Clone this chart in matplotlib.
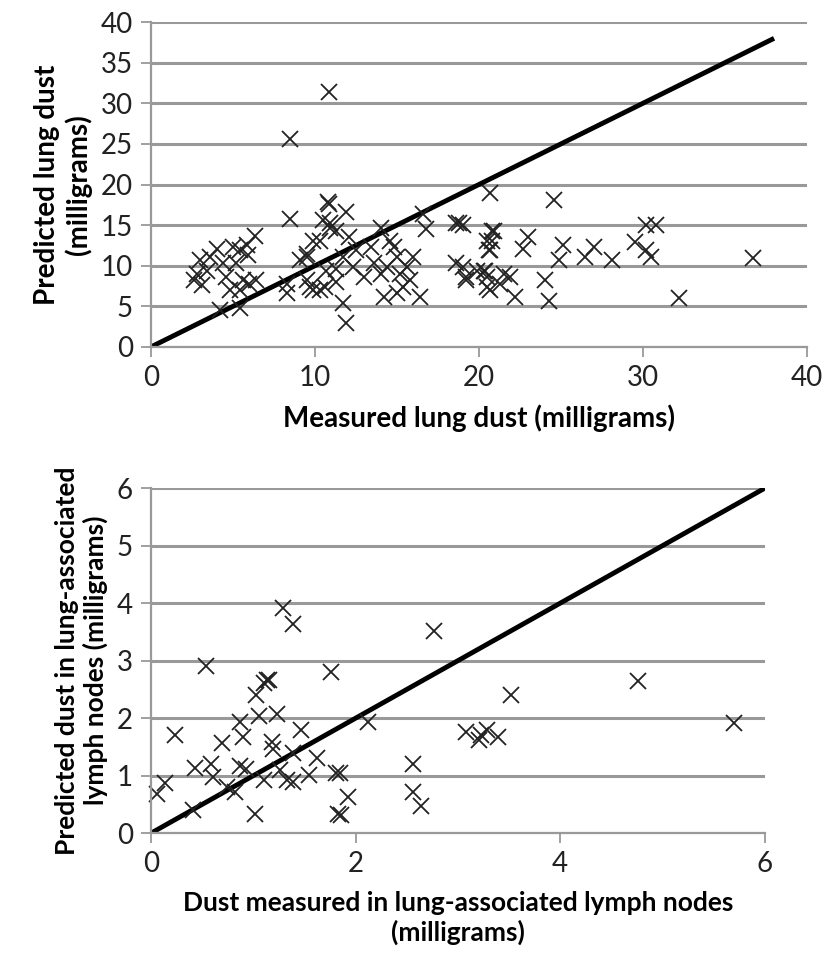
"""Predicted vs measured dust: lung (top) and lung-associated lymph nodes (bottom)."""
import matplotlib
matplotlib.use('Agg')
import matplotlib.pyplot as plt

# lung dust, milligrams
lung_measured = [
    10.85, 8.48, 20.7, 10.85, 8.48, 10.8, 10.5, 10.9,
    6.34, 5.83, 5.4, 4.0, 3.6, 3.0, 2.8, 2.6, 3.1, 4.4, 4.6, 5.2, 5.6, 6.0,
    4.8, 5.4, 4.2, 5.4, 5.0, 5.9, 3.4, 6.4,
    8.3, 8.3, 9.1, 9.5, 9.7, 10.3, 9.9, 10.7, 11.3, 11.9,
    11.9, 10.9, 11.3, 10.3, 9.5, 12.1, 11.7, 12.5, 12.3, 11.3, 9.5, 9.9, 10.6,
    11.7, 13.4, 14.0, 13.0, 13.6, 14.0, 14.2, 14.6, 14.8, 15.0, 14.4, 15.2,
    15.6, 16.0, 15.4, 15.0, 15.8, 16.4, 16.6, 16.8,
    18.6, 19.0, 18.6, 19.0, 19.2, 19.9, 20.5, 20.7, 20.4, 20.5, 20.9,
    24.6, 18.8, 20.8, 20.8, 20.6, 23.0, 22.7, 25.1, 24.9, 27.0, 26.5, 28.1,
    29.5, 30.2, 30.5, 30.2, 30.8, 36.7, 32.2, 24.3, 24.0, 22.2, 21.5, 21.3,
    20.5, 20.3, 20.7, 19.2, 21.9,
]
lung_predicted = [
    31.4, 25.6, 19.0, 17.6, 15.8, 17.8, 15.6, 14.7,
    13.7, 12.5, 11.9, 12.1, 11.1, 10.7, 9.0, 8.2, 7.6, 10.3, 8.6, 10.3, 8.2, 7.8,
    7.0, 7.0, 4.5, 4.8, 12.3, 11.3, 9.4, 8.2,
    7.8, 6.6, 10.7, 11.5, 7.4, 7.0, 13.1, 9.4, 8.0, 2.9,
    16.6, 15.2, 14.3, 13.1, 11.1, 13.5, 11.1, 11.9, 9.8, 9.6, 8.2, 7.0, 7.4,
    5.4, 12.3, 14.7, 8.6, 10.3, 9.0, 6.2, 13.1, 12.3, 11.1, 9.8, 9.0,
    9.8, 11.1, 7.4, 6.6, 8.2, 6.2, 16.4, 14.5,
    15.2, 15.0, 10.3, 9.8, 8.6, 9.4, 13.1, 11.9, 9.4, 7.4, 14.3,
    18.1, 15.2, 14.3, 13.1, 11.9, 13.5, 12.1, 12.5, 10.7, 12.3, 11.1, 10.7,
    12.9, 11.9, 11.1, 15.0, 15.0, 10.9, 6.0, 5.6, 8.2, 6.2, 9.0, 7.8,
    8.6, 9.4, 7.0, 8.2, 8.6,
]

# lymph node dust, milligrams
lymph_measured = [
    0.54, 1.76, 1.15, 1.10, 1.03, 0.23, 0.87, 1.06, 1.23, 0.90, 0.69, 1.47,
    1.18, 1.19, 1.39, 1.62, 0.43, 0.59, 0.61, 0.74, 0.82, 0.87, 0.93, 1.10,
    1.33, 1.39, 1.54, 1.26, 0.14, 0.06, 0.41, 1.02, 1.83, 1.81,
    1.29, 1.39, 1.13,
    2.77, 3.52, 2.12, 3.08, 3.23, 3.28, 3.39, 3.21, 1.85, 2.56, 1.93, 2.56,
    2.64, 1.86, 4.76, 5.70,
]
lymph_predicted = [
    2.90, 2.81, 2.67, 2.61, 2.40, 1.71, 1.94, 2.03, 2.08, 1.68, 1.56, 1.79,
    1.59, 1.47, 1.39, 1.30, 1.13, 1.21, 0.98, 0.81, 0.72, 1.16, 1.12, 0.92,
    0.92, 0.89, 1.01, 1.10, 0.87, 0.69, 0.40, 0.34, 0.34, 1.04,
    3.91, 3.64, 2.67,
    3.51, 2.40, 1.94, 1.76, 1.71, 1.79, 1.68, 1.62, 1.04, 1.21, 0.63, 0.72,
    0.47, 0.31, 2.65, 1.92,
]

lung_ticks_x = [0, 10, 20, 30, 40]
lung_ticks_y = [0, 5, 10, 15, 20, 25, 30, 35, 40]
lymph_ticks = [0, 2, 4, 6]
lymph_ticks_y = [0, 1, 2, 3, 4, 5, 6]

plt.rcParams['font.family'] = ['Lato', 'DejaVu Sans']
grey = '#999999'

fig = plt.figure(figsize=(8.25, 9.61), dpi=100)
ax1 = fig.add_axes([0.183, 0.639, 0.795, 0.338])
ax2 = fig.add_axes([0.183, 0.133, 0.744, 0.359])


def style(ax, xt, yt):
    ax.set_xticks(xt)
    ax.set_yticks(yt)
    ax.set_xlim(xt[0], xt[-1])
    ax.set_ylim(yt[0], yt[-1])
    ax.grid(axis='y', color=grey, lw=2.2)
    ax.set_axisbelow(True)
    for s in ('top', 'right'):
        ax.spines[s].set_visible(False)
    for s in ('left', 'bottom'):
        ax.spines[s].set_color(grey)
        ax.spines[s].set_linewidth(1.6)
    ax.tick_params(direction='out', length=7, width=1.3, color=grey,
                   labelsize=20, pad=6)
    for lab in ax.get_xticklabels() + ax.get_yticklabels():
        lab.set_color('#222222')


style(ax1, lung_ticks_x, lung_ticks_y)
ax1.plot([0, 38], [0, 38], color='black', lw=3.5, solid_capstyle='butt')
ax1.plot(lung_measured, lung_predicted, 'x', color='#222222', ms=12, mew=1.3,
         clip_on=False)
ax1.set_xlabel('Measured lung dust (milligrams)', fontsize=20,
               fontweight='bold', labelpad=10)
ax1.set_ylabel('Predicted lung dust\n(milligrams)', fontsize=20,
               fontweight='bold', labelpad=6)

style(ax2, lymph_ticks, lymph_ticks_y)
ax2.plot([0, 6], [0, 6], color='black', lw=3.5, solid_capstyle='butt')
ax2.plot(lymph_measured, lymph_predicted, 'x', color='#222222', ms=12, mew=1.3,
         clip_on=False)
ax2.set_xlabel('Dust measured in lung-associated lymph nodes\n(milligrams)',
               fontsize=19, fontweight='bold', labelpad=10)
ax2.set_ylabel('Predicted dust in lung-associated\nlymph nodes (milligrams)',
               fontsize=19, fontweight='bold', labelpad=6)

plt.savefig('out.png', dpi=100)
